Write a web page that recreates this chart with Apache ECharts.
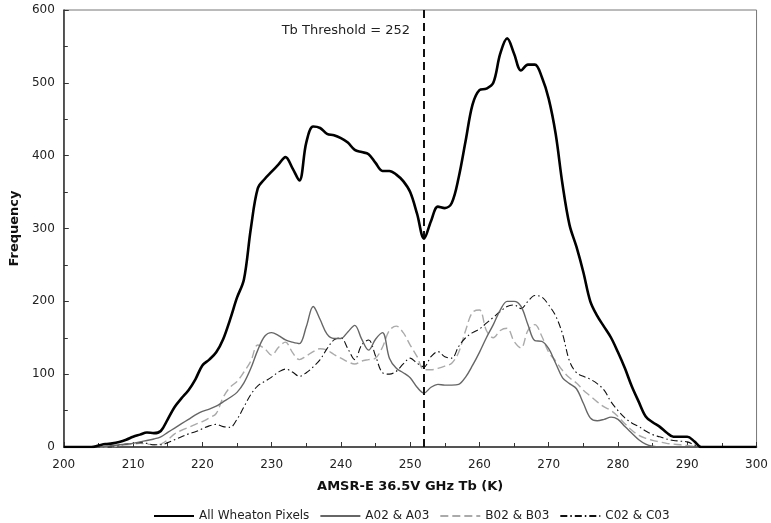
<!DOCTYPE html>
<html><head><meta charset="utf-8">
<script src="https://cdn.jsdelivr.net/npm/echarts@6/dist/echarts.min.js"></script>
<style>html,body{margin:0;padding:0;background:#fff}#c{width:771px;height:523px}</style>
</head><body><div id="c"></div>
<script>
// x values: brightness temperature (K), 200..300 step 1
const tb = [];
for (let t = 200; t <= 300; t++) tb.push(t);

const allWheaton = [0,0,0,0,0,2,4,5,7,10,14,17,20,19,22,38,55,67,78,93,112,120,130,148,175,205,230,300,355,368,378,388,398,383,366,418,440,438,430,428,424,418,408,405,402,390,379,379,374,365,350,320,286,310,330,328,335,370,420,470,490,492,500,540,561,540,517,525,525,508,478,430,360,305,275,240,200,180,165,150,130,108,83,62,42,34,28,20,14,14,14,8,0,0,0,0,0,0,0,0,0];
const a02a03 = [0,0,0,0,0,0,1,2,3,4,5,7,9,11,14,20,26,32,38,44,49,52,56,62,68,75,88,108,133,152,157,153,147,144,142,165,193,175,155,149,149,158,167,148,133,148,157,122,108,102,95,82,74,82,86,85,85,86,96,112,130,150,168,188,200,200,193,168,146,145,135,115,95,87,80,60,40,36,38,41,38,28,19,10,4,1,0,0,0,0,0,0,0,0,0,0,0,0,0,0,0];
const b02b03 = [0,0,0,0,0,0,0,0,2,3,4,5,4,3,4,10,18,23,27,31,35,40,46,68,82,90,103,118,140,135,126,137,144,130,120,125,131,135,133,127,122,117,114,118,120,122,137,160,166,157,140,124,106,106,108,111,115,130,160,185,188,160,150,160,163,145,136,160,168,152,130,118,105,95,88,78,70,62,55,50,42,32,23,16,12,9,7,5,4,3,2,1,0,0,0,0,0,0,0,0,0];
const c02c03 = [0,0,0,0,0,0,0,0,2,4,5,6,5,3,3,6,10,14,18,21,25,29,31,28,27,38,55,72,84,90,96,103,107,103,97,102,110,120,135,147,150,135,120,140,147,125,102,100,104,114,122,115,110,124,131,124,122,138,150,157,162,170,178,186,193,195,190,200,208,206,195,180,155,118,102,97,93,87,78,62,50,40,33,28,22,17,14,11,9,8,7,3,0,0,0,0,0,0,0,0,0];

const seriesNames = ['All Wheaton Pixels', 'A02 & A03', 'B02 & B03', 'C02 & C03'];
const thresholdTb = 252;
const thresholdLabel = 'Tb Threshold = 252';
const xTicks = [200,210,220,230,240,250,260,270,280,290,300];
const yTicks = [0,100,200,300,400,500,600];

const pair = arr => arr.map((v, i) => [tb[i], v]);
const font = 'DejaVu Sans, Verdana, sans-serif';

const chart = echarts.init(document.getElementById('c'), null, {renderer: 'canvas'});
chart.setOption({
  animation: false,
  backgroundColor: '#fff',
  textStyle: {fontFamily: font},
  grid: {left: 61, right: 12, top: 10, bottom: 76, show: true, borderColor: '#777', borderWidth: 1, containLabel: false},
  xAxis: {
    type: 'value', min: xTicks[0], max: xTicks[xTicks.length-1], interval: 10,
    name: 'AMSR-E 36.5V GHz Tb (K)', nameLocation: 'middle', nameGap: 33,
    nameTextStyle: {fontWeight: 'bold', fontSize: 13, color: '#111', fontFamily: font},
    axisLine: {lineStyle: {color: '#333', width: 1.5}},
    axisTick: {inside: true, length: 5, lineStyle: {color: '#333'}},
    minorTick: {show: true, splitNumber: 2, length: 4, lineStyle: {color: '#333'}},
    axisLabel: {color: '#222', fontSize: 12, margin: 12, fontFamily: font},
    splitLine: {show: false}
  },
  yAxis: {
    type: 'value', min: yTicks[0], max: yTicks[yTicks.length-1], interval: 100,
    name: 'Frequency', nameLocation: 'middle', nameGap: 38,
    nameTextStyle: {fontWeight: 'bold', fontSize: 13, color: '#111', fontFamily: font},
    axisLine: {show: true, lineStyle: {color: '#333', width: 1.5}},
    axisTick: {show: true, inside: true, length: 5, lineStyle: {color: '#333'}},
    minorTick: {show: true, splitNumber: 2, length: 4, lineStyle: {color: '#333'}},
    axisLabel: {color: '#222', fontSize: 12, margin: 9, fontFamily: font},
    splitLine: {show: false}
  },
  legend: {
    left: 148, top: 505, itemWidth: 40, itemHeight: 12, itemGap: 10,
    itemStyle: {opacity: 0, color: 'rgba(0,0,0,0)', borderWidth: 0},
    textStyle: {color: '#222', fontSize: 12, fontFamily: font},
    data: seriesNames
  },
  series: [
    {name: seriesNames[0], type: 'line', data: pair(allWheaton), smooth: 0.35, symbol: 'none',
     lineStyle: {color: '#000', width: 2.6}, itemStyle: {color: '#000'}, z: 5,
     markLine: {silent: true, symbol: 'none', label: {show: false},
       lineStyle: {color: '#111', width: 2, type: [8, 5]},
       data: [{xAxis: thresholdTb}]},
     markPoint: {symbol: 'circle', symbolSize: 0, silent: true,
       data: [{coord: [thresholdTb, 571], label: {show: true, formatter: thresholdLabel, position: 'left', distance: 14, color: '#222', fontSize: 13, fontFamily: font}}]}
    },
    {name: seriesNames[1], type: 'line', data: pair(a02a03), smooth: 0.35, symbol: 'none',
     lineStyle: {color: '#666', width: 1.4}, itemStyle: {color: '#666'}, z: 4},
    {name: seriesNames[2], type: 'line', data: pair(b02b03), smooth: 0.35, symbol: 'none',
     lineStyle: {color: '#aaa', width: 1.4, type: [8, 4]}, itemStyle: {color: '#aaa'}, z: 3},
    {name: seriesNames[3], type: 'line', data: pair(c02c03), smooth: 0.35, symbol: 'none',
     lineStyle: {color: '#111', width: 1.1, type: [7, 3, 1.5, 3]}, itemStyle: {color: '#111'}, z: 3}
  ]
});
</script></body></html>
